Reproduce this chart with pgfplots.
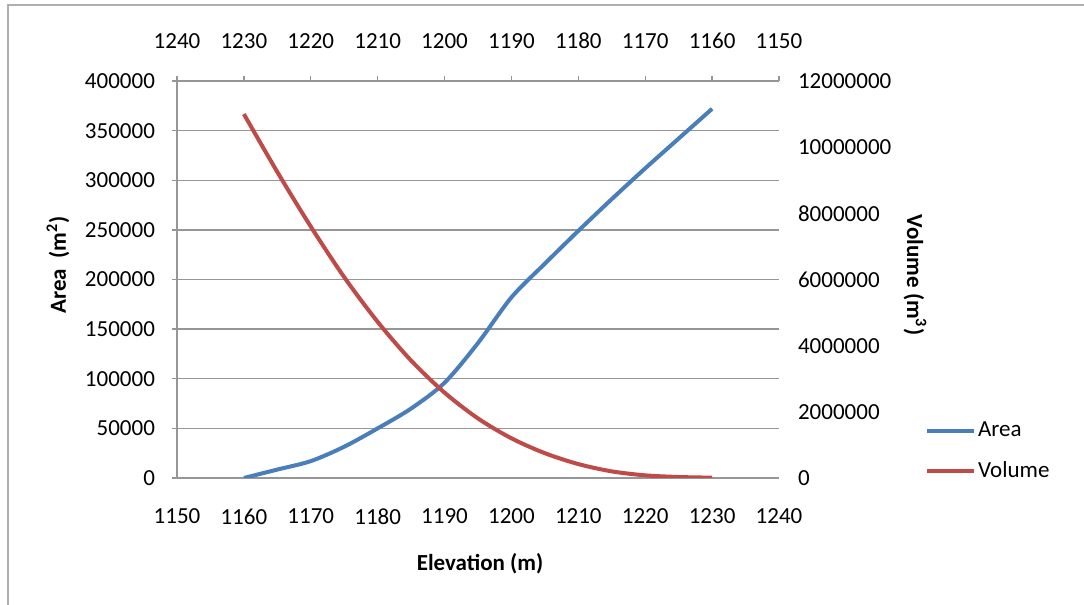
\documentclass[border=0pt]{standalone}
\usepackage{fontspec}
\setmainfont{Carlito}
\usepackage{pgfplots}
\pgfplotsset{compat=1.18}
\definecolor{areablue}{RGB}{74,126,187}
\definecolor{volred}{RGB}{190,75,72}
\definecolor{gridgray}{RGB}{150,150,150}
\definecolor{framegray}{RGB}{175,175,175}
\newcommand{\tf}{\fontsize{11.5pt}{13pt}\selectfont}
\begin{document}
\begin{tikzpicture}
\useasboundingbox (0,0) rectangle (542pt,302.5pt);
\fill[white] (0,0) rectangle (542pt,302.5pt);
\draw[framegray,line width=1pt] (3.75pt,0) -- (3.75pt,300pt) -- (542pt,300pt);
\pgfplotsset{
  every axis/.append style={
    scale only axis, width=301pt, height=198.5pt,
    at={(88.5pt,63.5pt)}, anchor=south west,
    xmin=1150, xmax=1240,
    /pgf/number format/assume math mode=true,
    /pgf/number format/.cd, fixed, 1000 sep={}, /pgfplots/.cd,
    scaled y ticks=false, scaled x ticks=false,
    tick label style={font=\tf, text=black},
    axis line style={gridgray, line width=0.7pt},
    tick style={gridgray, line width=0.7pt},
    xtick={1150,1160,...,1240},
  }
}
\begin{axis}[
  ymin=0, ymax=400000, ytick={0,50000,...,400000},
  axis x line*=bottom, axis y line*=left,
  ymajorgrids, grid style={gridgray, line width=0.7pt},
  xtick style={draw=none},
  ytick align=outside, major tick length=2.5pt,
  xticklabel style={yshift=-12pt},
  yticklabel style={xshift=-5pt},
]
\addplot[areablue, line width=2pt, smooth, tension=0.5] coordinates {
(1160,0) (1165,8500) (1170,17000) (1175,31500) (1180,50000) (1185,70000)
(1190,96000) (1195,136000) (1200,182000) (1205,216000) (1210,249000)
(1215,281000) (1220,312000) (1225,342000) (1230,372000)
};
\end{axis}
\begin{axis}[
  x dir=reverse,
  ymin=0, ymax=12000000, ytick={0,2000000,...,12000000},
  axis x line*=top, axis y line*=right,
  y axis line style={draw=none},
  ytick style={draw=none},
  xtick align=outside, major tick length=2.5pt,
  xticklabel style={yshift=10pt},
  yticklabel style={xshift=6pt},
  legend style={at={(1.242,0.147)}, anchor=north west, draw=none, fill=none,
    font=\tf, row sep=9pt, inner sep=0pt,
    nodes={inner sep=1pt}},
  legend cell align=left,
  legend image code/.code={\draw[#1] (0pt,0pt) -- (23.5pt,0pt);},
]
\addlegendimage{areablue, line width=2pt}
\addlegendentry{Area}
\addplot[volred, line width=2pt, smooth, tension=0.5] coordinates {
(1230,11000000) (1225,9250000) (1220,7600000) (1215,6070000) (1210,4720000)
(1205,3550000) (1200,2580000) (1195,1800000) (1190,1200000) (1185,750000)
(1180,420000) (1175,200000) (1170,80000) (1165,30000) (1160,10000)
};
\addlegendentry{Volume}
\end{axis}
\node[rotate=90, font=\tf\bfseries] at (29pt,170pt) {Area\ \ (m\textsuperscript{2})};
\node[rotate=-90, font=\tf\bfseries] at (457.5pt,165pt) {Volume (m\textsuperscript{3})};
\node[font=\tf\bfseries] at (240pt,20.5pt) {Elevation (m)};
\end{tikzpicture}
\end{document}
